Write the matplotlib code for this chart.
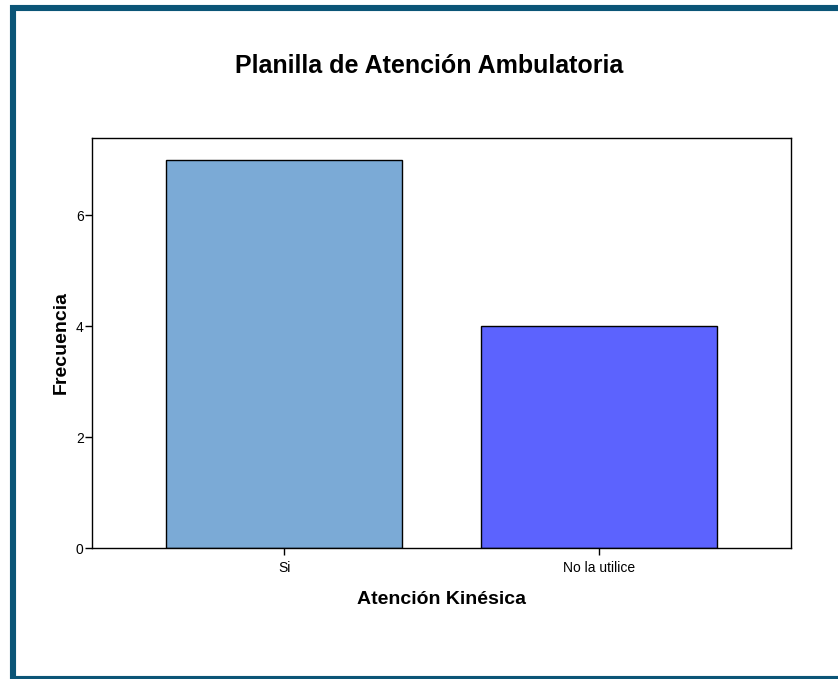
import matplotlib
matplotlib.use("Agg")
import matplotlib.pyplot as plt
from matplotlib.patches import Rectangle

plt.rcParams["font.family"] = ["Liberation Sans", "DejaVu Sans"]

categories = ["Si", "No la utilice"]
counts = [7, 4]
bar_colors = ["#7BAAD6", "#5C63FE"]

W, H = 838, 679
fig = plt.figure(figsize=(W / 100, H / 100), dpi=100)

# outer frame (right edge falls outside the image like the original)
frame = Rectangle((13 / W, 0), 1.2, (H - 8) / H, transform=fig.transFigure,
                  fill=False, edgecolor="#0B5577", linewidth=4.4, clip_on=False)
fig.patches.append(frame)

ax = fig.add_axes([92 / W, 1 - 548 / H, (791 - 92) / W, (548 - 138) / H])

ax.bar(range(len(categories)), counts, width=0.75, color=bar_colors,
       edgecolor="black", linewidth=1.0, zorder=2)

ax.set_xlim(-0.61, 1.61)
ax.set_ylim(0, 7.39)
ax.set_yticks([0, 2, 4, 6])
ax.set_xticks(range(len(categories)))
ax.set_xticklabels(categories)
ax.tick_params(axis="both", labelsize=10, length=5, width=1.0, direction="out")
ax.tick_params(axis="x", pad=4)
ax.tick_params(axis="y", pad=1)
for s in ax.spines.values():
    s.set_linewidth(1.0)

ax.set_xlabel("Atención Kinésica", fontsize=14, fontweight="bold", labelpad=12)
ax.set_ylabel("Frecuencia", fontsize=14, fontweight="bold", labelpad=4)

fig.text(429 / W, 1 - 66 / H, "Planilla de Atención Ambulatoria", ha="center", va="center",
         fontsize=18, fontweight="bold")

fig.savefig("out.png", dpi=100)
